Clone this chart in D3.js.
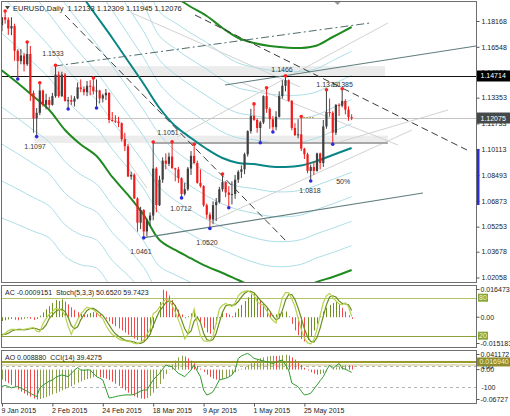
<!DOCTYPE html>
<html><head><meta charset="utf-8">
<script src="https://cdn.jsdelivr.net/npm/d3@7"></script>
<style>
body{margin:0;background:#fff}
svg{display:block;font-family:"Liberation Sans",Arial,sans-serif}
</style></head>
<body><svg id="c" width="510" height="416"></svg>
<script>
// ---------------- DATA ----------------
const title = "EURUSD,Daily  1.12133 1.12309 1.11945 1.12076";
const acHeader = "AC -0.0009151  Stoch(5,3,3) 50.6520 59.7423";
const aoHeader = "AO 0.008880  CCI(14) 39.4275";

const dateTickBars = [0,16,32,48,64,80,96];
const dateTickLabels = ["9 Jan 2015","2 Feb 2015","24 Feb 2015","18 Mar 2015","9 Apr 2015","1 May 2015","25 May 2015"];
const priceTicks = [1.18168,1.16548,1.14933,1.13353,1.11733,1.10113,1.08493,1.06873,1.05253,1.03678,1.02058];

const open = [1.1790,1.1840,1.1825,1.1770,1.1785,1.1630,1.1565,1.1600,1.1545,1.1610,
 1.1365,1.1205,1.1240,1.1380,1.1290,1.1320,1.1290,1.1345,1.1480,1.1345,
 1.1480,1.1315,1.1320,1.1310,1.1330,1.1400,1.1390,1.1370,1.1410,1.1405,
 1.1375,1.1380,1.1330,1.1350,1.1365,1.1195,1.1190,1.1185,1.1175,1.1075,
 1.1030,1.0840,1.0850,1.0702,1.0550,1.0630,1.0495,1.0565,1.0595,1.0890,
 1.0660,1.0820,1.0940,1.0920,1.0965,1.0892,1.0885,1.0830,1.0730,1.0760,
 1.0890,1.0970,1.0925,1.0800,1.0780,1.0660,1.0600,1.0570,1.0660,1.0680,
 1.0760,1.0805,1.0740,1.0725,1.0730,1.0820,1.0870,1.0885,1.0980,1.1125,
 1.1220,1.1195,1.1145,1.1180,1.1345,1.1265,1.1200,1.1150,1.1215,1.1345,
 1.1410,1.1445,1.1315,1.1145,1.1100,1.1105,1.1015,1.0980,1.0875,1.0900,
 1.0875,1.0985,1.0925,1.1155,1.1245,1.1240,1.1115,1.1290,1.1285,1.1315,
 1.1260,1.12133];
const high = [1.1842,1.1873,1.1840,1.1840,1.1800,1.1640,1.1640,1.1615,1.1679,1.1660,
 1.1380,1.1270,1.1423,1.1386,1.1360,1.1340,1.1365,1.1533,1.1500,1.1498,
 1.1490,1.1340,1.1350,1.1345,1.1430,1.1450,1.1405,1.1440,1.1445,1.1452,
 1.1450,1.1385,1.1360,1.1390,1.1370,1.1245,1.1225,1.1215,1.1180,1.1115,
 1.1045,1.0870,1.0860,1.0710,1.0650,1.0635,1.0575,1.0615,1.1051,1.0900,
 1.0845,1.0960,1.0985,1.0990,1.1052,1.0895,1.0900,1.0835,1.0800,1.0900,
 1.1000,1.1036,1.0940,1.0885,1.0785,1.0670,1.0615,1.0685,1.0705,1.0775,
 1.0849,1.0810,1.0780,1.0810,1.0850,1.0880,1.0910,1.0990,1.1130,1.1265,
 1.1290,1.1205,1.1190,1.1350,1.1391,1.1275,1.1220,1.1250,1.1375,1.1445,
 1.1466,1.1450,1.1320,1.1175,1.1200,1.1211,1.1020,1.0990,1.0915,1.0935,
 1.0990,1.0990,1.1195,1.1379,1.1330,1.1250,1.1295,1.1300,1.1385,1.1325,
 1.1280,1.12309];
const low = [1.1752,1.1800,1.1730,1.1728,1.1567,1.1459,1.1545,1.1500,1.1535,1.1315,
 1.1115,1.1097,1.1225,1.1280,1.1262,1.1265,1.1285,1.1335,1.1335,1.1340,
 1.1310,1.1270,1.1290,1.1280,1.1325,1.1370,1.1350,1.1345,1.1350,1.1355,
 1.1277,1.1300,1.1305,1.1320,1.1175,1.1185,1.1175,1.1150,1.1060,1.1000,
 1.0838,1.0820,1.0700,1.0494,1.0510,1.0461,1.0463,1.0530,1.0565,1.0615,
 1.0655,1.0800,1.0885,1.0905,1.0890,1.0810,1.0800,1.0712,1.0720,1.0750,
 1.0850,1.0920,1.0795,1.0770,1.0650,1.0575,1.0520,1.0540,1.0560,1.0670,
 1.0745,1.0710,1.0650,1.0665,1.0700,1.0800,1.0830,1.0855,1.0965,1.1110,
 1.1190,1.1115,1.1058,1.1170,1.1240,1.1140,1.1126,1.1130,1.1210,1.1330,
 1.1375,1.1310,1.1130,1.1095,1.1080,1.1000,1.0950,1.0860,1.0818,1.0850,
 1.0870,1.0885,1.0900,1.1140,1.1215,1.1049,1.1100,1.1220,1.1275,1.1230,
 1.1190,1.11945];
const close = [1.1840,1.1825,1.1770,1.1785,1.1630,1.1565,1.1600,1.1545,1.1610,1.1365,
 1.1205,1.1240,1.1380,1.1290,1.1320,1.1290,1.1345,1.1480,1.1345,1.1480,
 1.1315,1.1320,1.1310,1.1330,1.1400,1.1390,1.1370,1.1410,1.1405,1.1375,
 1.1380,1.1330,1.1350,1.1365,1.1195,1.1190,1.1185,1.1175,1.1075,1.1030,
 1.0840,1.0850,1.0702,1.0550,1.0630,1.0495,1.0565,1.0595,1.0890,1.0660,
 1.0820,1.0940,1.0920,1.0965,1.0892,1.0885,1.0830,1.0730,1.0760,1.0890,
 1.0970,1.0925,1.0800,1.0780,1.0660,1.0600,1.0570,1.0660,1.0680,1.0760,
 1.0805,1.0740,1.0725,1.0730,1.0820,1.0870,1.0885,1.0980,1.1125,1.1220,
 1.1195,1.1145,1.1180,1.1345,1.1265,1.1200,1.1150,1.1215,1.1345,1.1410,
 1.1445,1.1315,1.1145,1.1100,1.1105,1.1015,1.0980,1.0875,1.0900,1.0875,
 1.0985,1.0925,1.1155,1.1245,1.1240,1.1115,1.1290,1.1285,1.1315,1.1260,
 1.12133,1.12076];

const fractalHighs = [1,8,12,17,29,48,54,61,70,80,84,90,95,103,108];
const fractalLows  = [5,11,21,30,45,57,66,72,82,86,98,105];

// Bollinger-like band (bar index, price)
const bandBars  = [-1,5,10,15,20,25,30,35,40,45,50,55,60,65,70,75,80,85,90,95,100,105,111];
const bandMid   = [1.26897,1.25390,1.24009,1.22627,1.21245,1.19864,1.18482,1.17101,1.15656,1.14212,1.12705,1.11574,1.10821,1.10130,1.09565,1.09251,1.09188,1.09031,1.08999,1.09094,1.09376,1.09753,1.10193];
const bandUpper = [1.38578,1.36506,1.34590,1.32675,1.31168,1.29315,1.27274,1.25830,1.24071,1.22439,1.20241,1.19675,1.19047,1.18482,1.17729,1.17101,1.16787,1.16598,1.16504,1.16473,1.16630,1.17163,1.17791];
const bandLower = [1.15217,1.14275,1.13427,1.12579,1.11323,1.10412,1.09690,1.08371,1.07241,1.05985,1.04415,1.03787,1.03253,1.02751,1.02343,1.01903,1.01463,1.01212,1.01181,1.01338,1.01777,1.02091,1.02531];
const fanLevels = [-4,-3,-2,-1,1,2,3,4,6,7,8,9];   // in fifths of band width

// chart objects: [bar1, price1, bar2, price2]
const dashedLines  = [[20.0,1.18545,90.48,1.04289],[61.27,1.18545,147.6,1.10067]];
const dashDotLines = [[16.83,1.15342,116.83,1.18043]];
const channelLines = [[70.79,1.14149,150.48,1.16598],[44.76,1.04541,133.65,1.07367]];
const thinGrayLines= [[41.27,1.18671,94.6,1.14023],[75.56,1.14338,125.7,1.10381],[55.56,1.10883,122.5,1.18043],
                      [66.03,1.05545,130.16,1.11323],[107.3,1.10570,141.6,1.12579],[39.68,1.09439,46.03,1.07681]];
const oliveSegments= [[94.6,1.1211,99.4,1.1211]];
const zones = [[15.3,1.1533,121.6,1.1466],[10.2,1.1097,122.5,1.1051]];
const supportLine = [48,1.1051,122.5,1.1051];
const blackLevel = 1.14714;
const bidPrice = 1.12075;
const rangeMarker = [1.1013,1.0661];

const priceLabels = [
 {t:"1.1533",b:16.19,p:1.15939},{t:"1.1097",b:10.48,p:1.10098},{t:"1.1051",b:52.7,p:1.10978},
 {t:"1.0461",b:44.1,p:1.03504},{t:"1.0712",b:56.8,p:1.06205},{t:"1.0520",b:65.1,p:1.04070},
 {t:"1.1466",b:88.9,p:1.14934},{t:"1.1379",b:103.2,p:1.13992},{t:"1.1385",b:108.0,p:1.13992},
 {t:"1.0818",b:97.8,p:1.07335},{t:"50%",b:108.3,p:1.07901}];

// sub-window indicators
const ac = [-0.0020,-0.0016,-0.0012,-0.0009,-0.0013,-0.0016,-0.0012,-0.0008,-0.0005,-0.0009,-0.0014,-0.0009,
 0.0008,0.0025,0.0042,0.0058,0.0075,0.0090,0.0086,0.0094,
 0.0082,0.0068,0.0052,0.0039,0.0026,0.0018,0.0012,
 0.0016,0.0022,0.0027,0.0024,
 0.0015,0.0005,-0.0008,-0.0022,-0.0036,-0.0048,-0.0059,-0.0070,-0.0081,-0.0092,-0.0103,-0.0112,-0.0120,-0.0126,-0.0129,
 -0.0115,-0.0090,-0.0055,
 0.0005,0.0080,0.0145,
 0.0138,0.0115,0.0090,0.0065,0.0040,0.0015,-0.0005,
 0.0005,0.0020,0.0030,
 0.0005,-0.0025,-0.0055,-0.0080,-0.0088,
 -0.0065,-0.0035,-0.0005,0.0025,
 0.0022,0.0015,0.0005,
 0.0025,0.0045,0.0065,0.0085,0.0105,0.0120,0.0125,
 0.0110,0.0090,0.0070,0.0050,0.0030,0.0010,
 0.0015,0.0020,0.0026,0.0030,
 0.0005,-0.0035,-0.0070,-0.0095,-0.0115,-0.0128,
 -0.0120,-0.0100,-0.0070,-0.0035,0.0005,
 0.0030,0.0050,0.0065,0.0075,0.0080,
 0.0070,0.0050,0.0030,0.0010,-0.0009151];
const stochMain = [20,24,28,30,30,29,29,30,31,32,33,27,26,39,47,54,58,63,62,60,
 52,35,22,35,45,54,60,65,63,61,57,51,47,36,28,22,19,15,13,12,
 11,10,8,7,10,13,22,30,55,58,65,72,78,76,68,57,45,32,15,22,
 45,62,40,20,12,11,12,20,40,62,68,71,68,66,72,83,88,90,91,88,
 84,74,70,68,60,50,44,40,60,80,88,88,78,66,48,30,16,9,7,14,
 30,52,72,83,87,80,75,70,69,72,66,50.652];
const stochSignal = [22,22,24,27,29,30,30,29,30,31,32,31,29,31,37,47,53,58,61,62,
 58,49,36,31,34,45,53,60,63,63,60,56,52,45,37,29,23,19,16,13,
 12,11,10,8,8,10,15,22,36,48,59,65,72,75,74,67,57,45,31,23,
 27,43,49,41,24,14,12,14,24,41,57,67,69,68,69,74,81,87,90,90,
 88,82,76,71,66,59,51,45,48,60,76,85,85,77,64,48,31,18,11,10,
 17,32,51,69,81,83,81,75,71,70,69,59.7423];
const ao = [-0.022,-0.026,-0.030,-0.034,-0.038,
 -0.044,-0.049,-0.053,-0.057,-0.060,-0.064,-0.066,-0.065,-0.063,
 -0.061,-0.058,-0.055,-0.052,-0.049,-0.046,-0.043,-0.040,-0.037,-0.033,-0.029,-0.026,-0.023,-0.021,-0.019,-0.017,-0.016,
 -0.017,-0.018,-0.020,-0.023,-0.027,-0.031,-0.036,-0.041,-0.046,-0.051,-0.055,-0.059,-0.062,-0.064,-0.065,
 -0.063,-0.058,-0.051,-0.042,-0.032,-0.021,-0.010,0.001,0.011,0.020,0.027,0.031,
 0.029,0.025,0.020,0.014,0.008,
 0.002,-0.005,-0.011,-0.016,-0.020,-0.022,-0.023,
 -0.021,-0.018,-0.014,-0.010,-0.006,-0.002,0.002,0.006,0.010,0.014,0.018,
 0.022,0.025,0.027,0.029,0.030,0.031,0.030,0.031,0.032,0.033,
 0.031,0.027,0.022,0.016,0.010,0.004,
 -0.002,-0.006,-0.009,-0.011,-0.010,-0.008,
 -0.004,0.000,0.003,0.005,0.007,0.009,0.010,0.0095,0.00888];
const cci = [-95,-85,-95,-108,-100,-97,-110,-125,-140,-160,-176,-192,-110,-85,-62,-45,-33,-10,5,14,
 8,-2,30,60,85,62,60,62,62,30,-2,-15,-33,-120,-205,-200,-192,-185,-180,-176,
 -175,-176,-170,-155,-140,-129,-129,-80,-33,0,30,70,109,100,93,60,30,15,-2,30,
 62,109,50,-2,-129,-176,-165,-144,-90,-33,-25,-17,-5,14,60,172,195,210,220,200,
 172,165,156,148,140,132,124,135,150,156,110,62,-62,-80,-97,-140,-176,-170,-160,-120,
 -81,-40,-2,60,109,77,100,124,77,70,55,39.4275];
const acAxisValues = [0.016473,0,-0.015183];
const acAxisLabels = ["0.016473","0.00","-0.015183"];
const stochLevels = [80,20];
const aoAxisValues = [0.041172,0,-0.06727];
const aoAxisLabels = ["0.041172","0.00","-0.06727"];
const cciLevels = [100,-100];
const aoLevel = 0.01694;
const aoLevel2 = 0.0102;

// ---------------- DRAW ----------------
const svg = d3.select("#c");
const R = 476.5;
const x = d3.scaleLinear().domain([0,111]).range([2,351.65]);
const y = d3.scaleLinear().domain([1.02058,1.18168]).range([277.5,21]);
const acY = d3.scaleLinear().domain([-0.015183,0.016473]).range([346,286]);
const stY = d3.scaleLinear().domain([20,80]).range([335.7,297.7]);
const aoY = d3.scaleLinear().domain([-0.06727,0.041172]).range([400,351]);
const cciY = d3.scaleLinear().domain([-100,100]).range([387,366]);
const panels = [[1.5,282.5],[285.5,347.5],[350.5,403.5]];

svg.append("rect").attr("width",510).attr("height",416).attr("fill","#fff");
const defs = svg.append("defs");
panels.forEach((p,i)=>defs.append("clipPath").attr("id","clip"+i).append("rect")
  .attr("x",1.5).attr("y",p[0]).attr("width",R-1.5).attr("height",p[1]-p[0]));

const g = svg.append("g").attr("clip-path","url(#clip0)");

// zones
g.selectAll(null).data(zones).enter().append("rect")
 .attr("x",d=>x(d[0])).attr("y",d=>y(d[1])).attr("width",d=>x(d[2])-x(d[0]))
 .attr("height",d=>y(d[3])-y(d[1])).attr("fill","#ececec");

// fan of thin cyan lines
const lineGen = d3.line().x(d=>x(d[0])).y(d=>y(d[1])).curve(d3.curveCatmullRom);
fanLevels.forEach(k=>{
  const pts = bandBars.map((b,i)=>[b, k<0 ? bandMid[i]+(-k/5)*(bandUpper[i]-bandMid[i])
                                        : bandMid[i]+(k/5)*(bandLower[i]-bandMid[i])]);
  g.append("path").attr("d",lineGen(pts)).attr("fill","none").attr("stroke","#acdde6").attr("stroke-width",1);
});

function segs(sel,data,stroke,w,dash){
  sel.selectAll(null).data(data).enter().append("line")
   .attr("x1",d=>x(d[0])).attr("y1",d=>y(d[1])).attr("x2",d=>x(d[2])).attr("y2",d=>y(d[3]))
   .attr("stroke",stroke).attr("stroke-width",w).attr("stroke-dasharray",dash||null);
}
segs(g,thinGrayLines,"#d2d2d2",1);

// horizontal levels
g.append("line").attr("x1",0).attr("x2",R).attr("y1",Math.round(y(bidPrice))+0.5).attr("y2",Math.round(y(bidPrice))+0.5)
 .attr("stroke","#c4c4c4").attr("stroke-width",1);
g.append("line").attr("x1",0).attr("x2",R).attr("y1",Math.round(y(blackLevel))+0.5).attr("y2",Math.round(y(blackLevel))+0.5)
 .attr("stroke","#111").attr("stroke-width",1);
segs(g,[supportLine],"#a8a8a8",2);

// bands
const bandPts = arr => bandBars.map((b,i)=>[b,arr[i]]);
g.append("path").attr("d",lineGen(bandPts(bandUpper))).attr("fill","none").attr("stroke","#1f8a1f").attr("stroke-width",2);
g.append("path").attr("d",lineGen(bandPts(bandLower))).attr("fill","none").attr("stroke","#1f8a1f").attr("stroke-width",2);
g.append("path").attr("d",lineGen(bandPts(bandMid))).attr("fill","none").attr("stroke","#0a8585").attr("stroke-width",2);

// trend objects
segs(g,channelLines,"#627e7e",1.2);
segs(g,dashedLines,"#3c3c3c",1,"7,4");
segs(g,dashDotLines,"#4f6d6d",1,"8,3,2,3");
segs(g,oliveSegments,"#b8a850",1,"2,1");

// candles
const idx = d3.range(open.length);
const col = i => close[i] >= open[i] ? "#3f3f3f" : "#f01c1c";
g.selectAll(null).data(idx).enter().append("line")
 .attr("x1",i=>x(i)).attr("x2",i=>x(i)).attr("y1",i=>y(high[i])).attr("y2",i=>y(low[i]))
 .attr("stroke",col).attr("stroke-width",1);
g.selectAll(null).data(idx).enter().append("rect")
 .attr("x",i=>x(i)-1.1).attr("width",2.2)
 .attr("y",i=>Math.min(y(open[i]),y(close[i])))
 .attr("height",i=>Math.max(1,Math.abs(y(open[i])-y(close[i]))))
 .attr("fill",col);

// fractal markers
g.selectAll(null).data(fractalHighs).enter().append("circle")
 .attr("cx",i=>x(i)).attr("cy",i=>y(high[i])-1).attr("r",1.8).attr("fill","#ff2020");
g.selectAll(null).data(fractalLows).enter().append("circle")
 .attr("cx",i=>x(i)).attr("cy",i=>y(low[i])+1).attr("r",1.8).attr("fill","#2a2ae0");

// price labels
g.selectAll(null).data(priceLabels).enter().append("text")
 .attr("x",d=>x(d.b)).attr("y",d=>y(d.p)).attr("text-anchor","middle")
 .attr("font-size",7).attr("fill","#333").text(d=>d.t);

// title
svg.append("path").attr("d","M5,6 L10,6 L7.5,9.5 Z").attr("fill","#444");
svg.append("text").attr("x",13).attr("y",11).attr("font-size",7.5).attr("fill","#222")
 .style("white-space","pre").text(title);
svg.append("path").attr("d",`M${x(106.5)-3},2 L${x(106.5)+3},2 L${x(106.5)},5 Z`).attr("fill","#9a9a9a");

// ---- AC / Stoch panel
const g1 = svg.append("g").attr("clip-path","url(#clip1)");
stochLevels.forEach((v,i)=>g1.append("line").attr("x1",0).attr("x2",R)
  .attr("y1",Math.round(stY(v))+0.5).attr("y2",Math.round(stY(v))+0.5)
  .attr("stroke",i===0?"#b2c464":"#8aa03a").attr("stroke-width",1));
g1.selectAll(null).data(idx).enter().append("line")
 .attr("x1",i=>Math.round(x(i))+0.5).attr("x2",i=>Math.round(x(i))+0.5)
 .attr("y1",acY(0)).attr("y2",i=>acY(ac[i]))
 .attr("stroke",i=> (i===0||ac[i]>ac[i-1]) ? "#6f8f22" : "#f24a4a").attr("stroke-width",1);
const sl = d3.line().x((d,i)=>x(i)).y(d=>stY(d));
g1.append("path").attr("d",sl(stochSignal)).attr("fill","none").attr("stroke","#6b8e23").attr("stroke-width",1.2);
g1.append("path").attr("d",sl(stochMain)).attr("fill","none").attr("stroke","#b6d24e").attr("stroke-width",1.2);
svg.append("text").attr("x",5).attr("y",294.5).attr("font-size",7).attr("fill","#222")
 .style("white-space","pre").text(acHeader);

// ---- AO / CCI panel
const g2 = svg.append("g").attr("clip-path","url(#clip2)");
g2.append("line").attr("x1",0).attr("x2",R).attr("y1",aoY(aoLevel)).attr("y2",aoY(aoLevel))
 .attr("stroke","#9a9a2c").attr("stroke-width",2);
g2.append("line").attr("x1",0).attr("x2",R).attr("y1",aoY(aoLevel2)).attr("y2",aoY(aoLevel2))
 .attr("stroke","#c8c27a").attr("stroke-width",1);
cciLevels.forEach(v=>g2.append("line").attr("x1",0).attr("x2",R)
 .attr("y1",Math.round(cciY(v))+0.5).attr("y2",Math.round(cciY(v))+0.5)
 .attr("stroke","#b4b4b4").attr("stroke-dasharray","3,3").attr("stroke-width",1));
g2.selectAll(null).data(idx).enter().append("line")
 .attr("x1",i=>Math.round(x(i))+0.5).attr("x2",i=>Math.round(x(i))+0.5)
 .attr("y1",aoY(0)).attr("y2",i=>aoY(ao[i]))
 .attr("stroke",i=> (i===0||ao[i]>ao[i-1]) ? "#8c9f4a" : "#f04a4a").attr("stroke-width",1);
g2.append("path").attr("d",d3.line().x((d,i)=>x(i)).y(d=>cciY(d))(cci))
 .attr("fill","none").attr("stroke","#2f9a2f").attr("stroke-width",1);
svg.append("text").attr("x",5).attr("y",360).attr("font-size",7).attr("fill","#222")
 .style("white-space","pre").text(aoHeader);

// ---- frames
panels.forEach(p=>svg.append("rect").attr("x",1.5).attr("y",p[0]).attr("width",R-1.5).attr("height",p[1]-p[0])
 .attr("fill","none").attr("stroke","#6e6e6e").attr("stroke-width",1));

// ---- price axis
const pa = svg.append("g").attr("transform",`translate(${R},0)`)
 .call(d3.axisRight(y).tickValues(priceTicks).tickFormat(d=>d.toFixed(5)).tickSize(3).tickPadding(2));
pa.select(".domain").remove();
pa.selectAll("text").attr("font-size",7).attr("fill","#222").attr("font-family","Liberation Sans, Arial");
pa.selectAll("line").attr("stroke","#555");
svg.append("rect").attr("x",R+0.5).attr("y",y(rangeMarker[0])).attr("width",2.5)
 .attr("height",y(rangeMarker[1])-y(rangeMarker[0])).attr("fill","#2d2dd8");

function tag(price,label,fill){
  const yy = y(price);
  svg.append("rect").attr("x",R+0.5).attr("y",yy-5.5).attr("width",510-R).attr("height",11).attr("fill",fill);
  svg.append("text").attr("x",R+4).attr("y",yy+2.5).attr("font-size",7).attr("fill","#fff").text(label);
}
tag(blackLevel,blackLevel.toFixed(5),"#000");
tag(bidPrice,bidPrice.toFixed(5),"#444a4a");

// sub axes labels
function subLabels(vals,labels,scale,p){
  vals.forEach((v,i)=>{
    const c = Math.max(p[0]+4,Math.min(p[1]-4,scale(v)));
    svg.append("line").attr("x1",R).attr("x2",R+3).attr("y1",c).attr("y2",c).attr("stroke","#555");
    svg.append("text").attr("x",R+4).attr("y",c+2.5).attr("font-size",7).attr("fill","#222").text(labels[i]);
  });
}
subLabels(acAxisValues,acAxisLabels,acY,panels[1]);
stochLevels.forEach(v=>{
  const c = stY(v);
  svg.append("rect").attr("x",R+1.5).attr("y",c-4).attr("width",10).attr("height",8).attr("fill","#86a63a");
  svg.append("text").attr("x",R+2.5).attr("y",c+2.5).attr("font-size",7).attr("fill","#f4f8e8").text(v);
});
// cci +100 label partly hidden
svg.append("text").attr("x",R+5).attr("y",cciY(100)+2.5).attr("font-size",7).attr("fill","#222").text("100");
subLabels(aoAxisValues,aoAxisLabels,aoY,panels[2]);
svg.append("text").attr("x",R+5).attr("y",cciY(-100)+2.5).attr("font-size",7).attr("fill","#222").text("-100");
svg.append("rect").attr("x",R+0.5).attr("y",aoY(aoLevel)-4.5).attr("width",510-R).attr("height",9).attr("fill","#8e8c2c");
svg.append("text").attr("x",R+3).attr("y",aoY(aoLevel)+2.5).attr("font-size",7).attr("fill","#f6f3d4").text(aoLevel.toFixed(6));

// ---- date axis
const da = svg.append("g").attr("transform","translate(0,403.5)")
 .call(d3.axisBottom(x).tickValues(dateTickBars).tickFormat((d,i)=>dateTickLabels[i]).tickSize(3).tickPadding(2));
da.select(".domain").remove();
da.selectAll("text").attr("font-size",7).attr("fill","#222").attr("text-anchor","start").attr("dx",-1)
 .attr("font-family","Liberation Sans, Arial");
da.selectAll("line").attr("stroke","#555");
</script></body></html>
